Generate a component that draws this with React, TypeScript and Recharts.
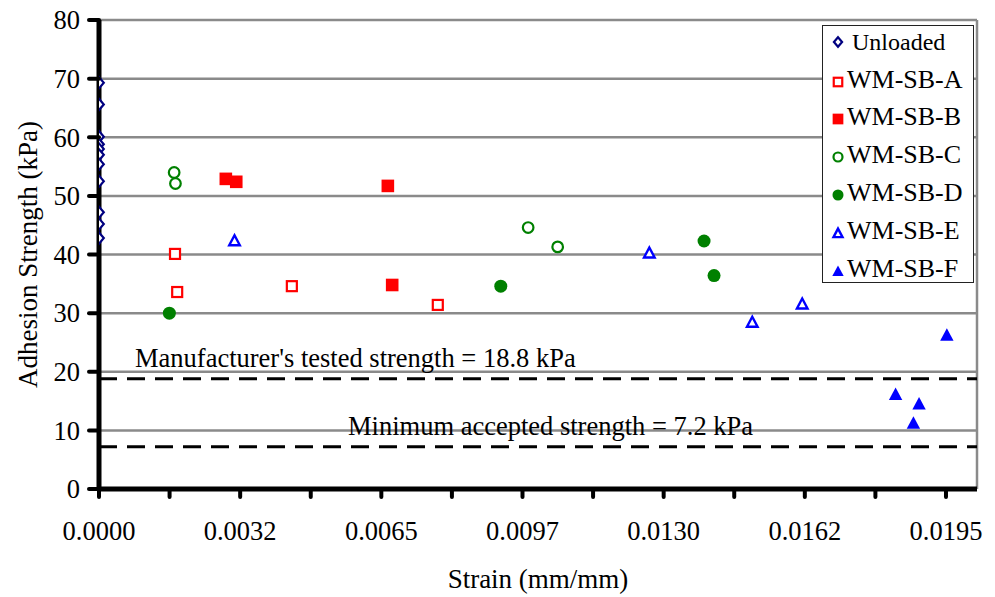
import React from 'react';
import {
  ScatterChart,
  Scatter,
  XAxis,
  YAxis,
  CartesianGrid,
  ReferenceLine,
  Legend,
} from 'recharts';

const FONT = '"Times New Roman", "Liberation Serif", serif';

// strain (mm/mm) vs adhesion strength (kPa)
const unloaded = [
  { x: 0, y: 69.3 },
  { x: 0, y: 65.6 },
  { x: 0, y: 60.1 },
  { x: 0, y: 58.8 },
  { x: 0, y: 58.0 },
  { x: 0, y: 57.0 },
  { x: 0, y: 55.4 },
  { x: 0, y: 52.5 },
  { x: 0, y: 47.2 },
  { x: 0, y: 45.2 },
  { x: 0, y: 42.8 },
];
const wmSbA = [
  { x: 0.00175, y: 40.1 },
  { x: 0.0018, y: 33.6 },
  { x: 0.00444, y: 34.6 },
  { x: 0.0078, y: 31.4 },
];
const wmSbB = [
  { x: 0.00292, y: 52.9 },
  { x: 0.00316, y: 52.4 },
  { x: 0.00665, y: 51.7 },
  { x: 0.00675, y: 34.8 },
];
const wmSbC = [
  { x: 0.00173, y: 54.0 },
  { x: 0.00176, y: 52.1 },
  { x: 0.00988, y: 44.6 },
  { x: 0.01056, y: 41.3 },
];
const wmSbD = [
  { x: 0.00162, y: 30.0 },
  { x: 0.00925, y: 34.6 },
  { x: 0.01393, y: 42.3 },
  { x: 0.01416, y: 36.4 },
];
const wmSbE = [
  { x: 0.00312, y: 42.4 },
  { x: 0.01267, y: 40.3 },
  { x: 0.01504, y: 28.5 },
  { x: 0.01619, y: 31.6 },
];
const wmSbF = [
  { x: 0.01952, y: 26.3 },
  { x: 0.01834, y: 16.2 },
  { x: 0.01888, y: 14.6 },
  { x: 0.01875, y: 11.3 },
];

const xTicks = [
  0, 0.001625, 0.00325, 0.004875, 0.0065, 0.008125, 0.00975, 0.011375, 0.013,
  0.014625, 0.01625, 0.017875, 0.0195,
];
const xTickLabels = ['0.0000', '0.0032', '0.0065', '0.0097', '0.0130', '0.0162', '0.0195'];
const yTicks = [0, 10, 20, 30, 40, 50, 60, 70, 80];
const X_MAX = 0.020214;

const manufacturerStrength = 18.8;
const minimumStrength = 7.2;

type Kind = 'diamond' | 'squareOpen' | 'square' | 'circleOpen' | 'circle' | 'triangleOpen' | 'triangle';

const series: { name: string; data: { x: number; y: number }[]; kind: Kind; color: string }[] = [
  { name: 'Unloaded', data: unloaded, kind: 'diamond', color: '#000080' },
  { name: 'WM-SB-A', data: wmSbA, kind: 'squareOpen', color: '#ff0000' },
  { name: 'WM-SB-B', data: wmSbB, kind: 'square', color: '#ff0000' },
  { name: 'WM-SB-C', data: wmSbC, kind: 'circleOpen', color: '#008000' },
  { name: 'WM-SB-D', data: wmSbD, kind: 'circle', color: '#008000' },
  { name: 'WM-SB-E', data: wmSbE, kind: 'triangleOpen', color: '#0000ff' },
  { name: 'WM-SB-F', data: wmSbF, kind: 'triangle', color: '#0000ff' },
];

const Marker = ({ cx, cy, kind, color, s = 1 }: any) => {
  switch (kind) {
    case 'diamond':
      return (
        <polygon
          points={`${cx},${cy - 5.6 * s} ${cx + 4.8 * s},${cy} ${cx},${cy + 5.6 * s} ${cx - 4.8 * s},${cy}`}
          fill="#fff"
          stroke={color}
          strokeWidth={2.2}
        />
      );
    case 'squareOpen':
      return <rect x={cx - 5 * s} y={cy - 5 * s} width={10 * s} height={10 * s} fill="#fff" stroke={color} strokeWidth={2.2} />;
    case 'square':
      return <rect x={cx - 6.3 * s} y={cy - 6.3 * s} width={12.6 * s} height={12.6 * s} fill={color} />;
    case 'circleOpen':
      return <circle cx={cx} cy={cy} r={5.3 * s} fill="#fff" stroke={color} strokeWidth={2.2} />;
    case 'circle':
      return <circle cx={cx} cy={cy} r={6.5 * s} fill={color} />;
    case 'triangleOpen':
      return (
        <polygon
          points={`${cx},${cy - 5.2 * s} ${cx + 5.3 * s},${cy + 4.8 * s} ${cx - 5.3 * s},${cy + 4.8 * s}`}
          fill="#fff"
          stroke={color}
          strokeWidth={2.4}
        />
      );
    default:
      return (
        <polygon
          points={`${cx},${cy - 6.5 * s} ${cx + 6.7 * s},${cy + 6 * s} ${cx - 6.7 * s},${cy + 6 * s}`}
          fill={color}
        />
      );
  }
};

const X_TICK_LEN = 8;
const X_TICK_GAP = 43;
const Y_TICK_LEN = 10;
const Y_TICK_GAP = 9;

// draws its own thick tick mark plus the label
const XTick = ({ x, y, index }: any) => {
  const axisY = y - X_TICK_LEN - X_TICK_GAP;
  return (
    <g>
      <line x1={x} y1={axisY} x2={x} y2={axisY + X_TICK_LEN} stroke="#000" strokeWidth={4} strokeLinecap="round" />
      {index % 2 === 0 && (
        <text x={x} y={y} textAnchor="middle" fontSize={26.5} fontFamily={FONT} fill="#000" stroke="none">
          {xTickLabels[index / 2]}
        </text>
      )}
    </g>
  );
};

const YTick = ({ x, y, payload }: any) => {
  const axisX = x + Y_TICK_LEN + Y_TICK_GAP;
  return (
    <g>
      <line x1={axisX - Y_TICK_LEN} y1={y} x2={axisX} y2={y} stroke="#000" strokeWidth={4} strokeLinecap="round" />
      <text x={x} y={y} dy="0.35em" textAnchor="end" fontSize={26.5} fontFamily={FONT} fill="#000" stroke="none">
        {payload.value}
      </text>
    </g>
  );
};

const LegendBox = () => (
  <div
    style={{
      position: 'relative',
      width: 152,
      height: 258,
      boxSizing: 'border-box',
      border: '1.5px solid #222',
      background: '#fff',
      fontFamily: FONT,
    }}
  >
    {series.map((s, i) => (
      <div
        key={s.name}
        style={{
          position: 'absolute',
          left: 0,
          top: i * 37.8 - 3,
          height: 37.8,
          display: 'flex',
          alignItems: 'center',
          whiteSpace: 'nowrap',
        }}
      >
        <svg width={i === 0 ? 29 : 24} height={20} style={{ flex: 'none' }}>
          <Marker cx={15} cy={i === 0 ? 10 : 12} kind={s.kind} color={s.color} s={0.85} />
        </svg>
        <span style={{ fontSize: i === 0 ? 24 : 26, color: '#000', lineHeight: 1 }}>{s.name}</span>
      </div>
    ))}
  </div>
);

const lineLabel = (text: string, dx: number) => (props: any) => {
  const vb = props.viewBox || {};
  return (
    <text x={vb.x + dx} y={vb.y - 12} fontSize={26.5} fontFamily={FONT} fill="#000">
      {text}
    </text>
  );
};

export default function App() {
  return (
    <div style={{ position: 'absolute', left: 0, top: 0, background: '#fff' }}>
      <ScatterChart width={995} height={597} margin={{ top: 20, right: 18, bottom: 0, left: 0 }}>
        <CartesianGrid vertical={false} stroke="#8a8a8a" strokeWidth={2.5} />
        <ReferenceLine x={X_MAX} stroke="#8a8a8a" strokeWidth={2.5} />
        <XAxis
          type="number"
          dataKey="x"
          domain={[0, X_MAX]}
          ticks={xTicks}
          interval={0}
          allowDataOverflow
          height={108}
          tickSize={X_TICK_LEN}
          tickMargin={X_TICK_GAP}
          axisLine={{ stroke: '#000', strokeWidth: 5 }}
          tickLine={false}
          tick={<XTick />}
          label={{
            content: (p: any) => {
              const vb = p.viewBox || {};
              return (
                <text x={vb.x + vb.width / 2} y={vb.y + 99} textAnchor="middle" fontSize={27} fontFamily={FONT} fill="#000">
                  Strain (mm/mm)
                </text>
              );
            },
          }}
        />
        <YAxis
          type="number"
          dataKey="y"
          domain={[0, 80]}
          ticks={yTicks}
          interval={0}
          width={99}
          tickSize={Y_TICK_LEN}
          tickMargin={Y_TICK_GAP}
          axisLine={{ stroke: '#000', strokeWidth: 5 }}
          tickLine={false}
          tick={<YTick />}
          label={{
            content: (p: any) => {
              const vb = p.viewBox || {};
              const cy = vb.y + vb.height / 2;
              return (
                <text
                  x={28}
                  y={cy}
                  transform={`rotate(-90 28 ${cy})`}
                  textAnchor="middle"
                  dominantBaseline="central"
                  fontSize={27}
                  fontFamily={FONT}
                  fill="#000"
                >
                  Adhesion Strength (kPa)
                </text>
              );
            },
          }}
        />
        <ReferenceLine
          y={manufacturerStrength}
          stroke="#000"
          strokeWidth={3}
          strokeDasharray="18 10"
          label={lineLabel(`Manufacturer's tested strength = ${manufacturerStrength} kPa`, 36)}
        />
        <ReferenceLine
          y={minimumStrength}
          stroke="#000"
          strokeWidth={3}
          strokeDasharray="18 10"
          label={lineLabel(`Minimum accepted strength = ${minimumStrength} kPa`, 249)}
        />
        <Legend
          layout="vertical"
          align="center"
          verticalAlign="middle"
          content={() => <LegendBox />}
          wrapperStyle={{ position: 'absolute', left: 822, top: 25, width: 152, height: 258 }}
        />
        {series.map((s) => (
          <Scatter
            key={s.name}
            name={s.name}
            data={s.data}
            isAnimationActive={false}
            shape={(p: any) => <Marker cx={p.cx} cy={p.cy} kind={s.kind} color={s.color} />}
          />
        ))}
      </ScatterChart>
    </div>
  );
}
